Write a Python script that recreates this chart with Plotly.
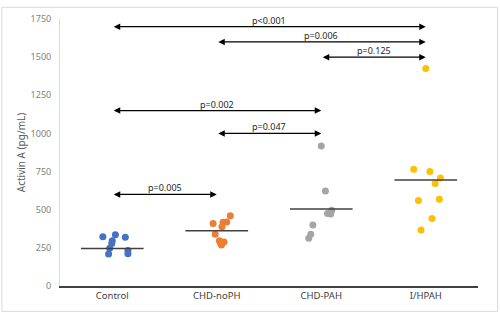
import plotly.graph_objects as go

categories = ["Control", "CHD-noPH", "CHD-PAH", "I/HPAH"]
colors = ["#4472C4", "#ED7D31", "#A5A5A5", "#FFC000"]

control_vals = [322, 336, 320, 296, 279, 247, 210, 232, 212]
control_jit = [-0.09, 0.03, 0.125, 0.0, -0.005, -0.025, -0.035, 0.15, 0.15]
nopH_vals = [461, 420, 418, 410, 388, 339, 296, 289, 268, 282]
nopH_jit = [0.13, 0.095, 0.06, -0.035, 0.05, -0.015, 0.025, 0.07, 0.045, 0.035]
pah_vals = [918, 622, 497, 476, 472, 399, 339, 313]
pah_jit = [0.0, 0.04, 0.1, 0.06, 0.09, -0.08, -0.1, -0.12]
ihpah_vals = [1426, 765, 751, 708, 671, 560, 568, 442, 367]
ihpah_jit = [0.0, -0.115, 0.04, 0.14, 0.09, -0.07, 0.13, 0.06, -0.045]

medians = [246, 362, 504, 695]

comparisons = [  # (from group, to group, level, label)
    (0, 3, 1700, "p<0.001"),
    (1, 3, 1600, "p=0.006"),
    (2, 3, 1500, "p=0.125"),
    (0, 2, 1150, "p=0.002"),
    (1, 2, 1000, "p=0.047"),
    (0, 1, 600, "p=0.005"),
]

y_ticks = [0, 250, 500, 750, 1000, 1250, 1500, 1750]

groups = [
    (control_vals, control_jit),
    (nopH_vals, nopH_jit),
    (pah_vals, pah_jit),
    (ihpah_vals, ihpah_jit),
]

fig = go.Figure()
for i, (vals, jit) in enumerate(groups):
    fig.add_trace(go.Scatter(
        x=[i + j for j in jit], y=vals, mode="markers",
        marker=dict(color=colors[i], size=7, line=dict(width=0)),
        showlegend=False, hoverinfo="y"))
    fig.add_trace(go.Scatter(
        x=[i - 0.3, i + 0.3], y=[medians[i], medians[i]], mode="lines",
        line=dict(color="#404040", width=1.5), showlegend=False, hoverinfo="skip"))

for a, b, lvl, lab in comparisons:
    fig.add_annotation(x=b, y=lvl, ax=a, ay=lvl, xref="x", yref="y", axref="x", ayref="y",
                       text="", showarrow=True, arrowhead=2, arrowside="end+start",
                       arrowsize=1, arrowwidth=1.3, arrowcolor="#000000")
    fig.add_annotation(x=(a + b) / 2, y=lvl, xref="x", yref="y", text=lab, showarrow=False,
                       yanchor="bottom", yshift=-2,
                       font=dict(family="Noto Sans", size=9, color="#262626"))

# outer chart border
fig.add_shape(type="rect", xref="paper", yref="paper", x0=-0.139, x1=1.047, y0=-0.095, y1=1.044,
              line=dict(color="#D9D9D9", width=1), fillcolor="rgba(0,0,0,0)", layer="below")

fig.update_layout(
    width=500, height=314,
    margin=dict(l=60, r=22, t=14, b=28),
    paper_bgcolor="white", plot_bgcolor="white",
    font=dict(family="Noto Sans", size=9, color="#595959"),
    xaxis=dict(range=[-0.5, 3.5], tickvals=[0, 1, 2, 3], ticktext=categories,
               showgrid=False, zeroline=False, showline=True, linecolor="#404040", linewidth=1.5,
               ticks="", tickfont=dict(size=9.5, color="#404040"), fixedrange=True),
    yaxis=dict(range=[0, 1750], tickvals=y_ticks, showgrid=False, zeroline=False,
               showline=True, linecolor="#D9D9D9", linewidth=1, ticks="",
               ticklabelstandoff=6,
               tickfont=dict(size=9, color="#7F7F7F"),
               title=dict(text="Activin A (pg/mL)", font=dict(size=10, color="#595959"), standoff=3)),
)

fig.write_html("out.html", config={"displayModeBar": False},
               post_script="document.body.style.margin='0';document.body.style.overflow='hidden';")
